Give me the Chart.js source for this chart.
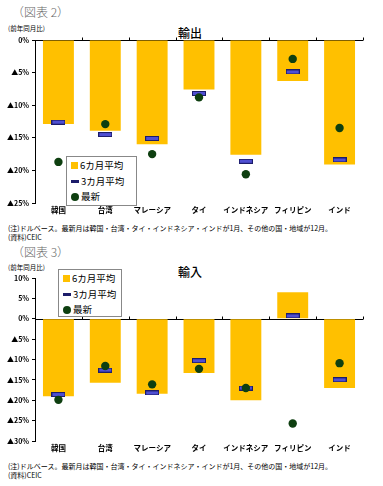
<!DOCTYPE html>
<html>
<head>
<meta charset="utf-8">
<script src="https://cdn.jsdelivr.net/npm/chart.js@4"></script>
<style>
  body { margin: 0; background: #fff; font-family: "Noto Sans CJK JP", sans-serif; }
  #page { position: relative; width: 383px; height: 486px; overflow: hidden; }
  .abs { position: absolute; white-space: nowrap; }
  .fig { font-size: 12px; color: #666; font-weight: 300; }
  .unit { font-size: 6.5px; color: #000; }
  .ttl { font-size: 12px; color: #000; font-weight: 500; transform: translateX(-50%); }
  .note { font-size: 7px; color: #000; }
  canvas { position: absolute; left: 0; }
  .legend { position: absolute; background: #fff; border: 1px solid #888; box-sizing: border-box; padding: 1px 4px; }
  .legend div { display: flex; align-items: center; font-size: 9.5px; height: 15.5px; line-height: 15.5px; color: #000; }
  .legend i { display: inline-block; margin-right: 2px; flex: none; }
</style>
</head>
<body>
<div id="page">
  <div class="abs fig" style="left:12px; top:3px;">（図表 2）</div>
  <div class="abs unit" style="left:8px; top:23px;">(前年同月比)</div>
  <div class="abs ttl" style="left:190px; top:24px;">輸出</div>
  <canvas id="exportChart" width="383" height="200" style="top:20px;"></canvas>
  <div class="legend" id="exportLegend" style="left:66px; top:156px; width:71px; height:50px;"></div>
  <div class="abs note" style="left:8px; top:223px;">(注)ドルベース。最新月は韓国・台湾・タイ・インドネシア・インドが1月、その他の国・地域が12月。</div>
  <div class="abs note" style="left:8px; top:232px;">(資料)CEIC</div>

  <div class="abs fig" style="left:12px; top:243px;">（図表 3）</div>
  <div class="abs unit" style="left:8px; top:262px;">(前年同月比)</div>
  <div class="abs ttl" style="left:190px; top:263px;">輸入</div>
  <canvas id="importChart" width="383" height="200" style="top:258px;"></canvas>
  <div class="legend" id="importLegend" style="left:58px; top:269px; width:64px; height:48px;"></div>
  <div class="abs note" style="left:8px; top:461px;">(注)ドルベース。最新月は韓国・台湾・タイ・インドネシア・インドが1月、その他の国・地域が12月。</div>
  <div class="abs note" style="left:8px; top:470px;">(資料)CEIC</div>
</div>
<script>
const categories = ["韓国", "台湾", "マレーシア", "タイ", "インドネシア", "フィリピン", "インド"]
const seriesNames = ["6カ月平均", "3カ月平均", "最新"]

// 輸出（前年同月比, %）
const exportAvg6 = [-12.9, -13.9, -16.0, -7.6, -17.6, -6.3, -19.1]
const exportAvg3 = [-12.6, -14.5, -15.1, -8.2, -18.6, -4.9, -18.4]
const exportLatest = [-18.7, -12.9, -17.5, -8.8, -20.6, -2.9, -13.5]
const exportRange = [-25, 0]

// 輸入（前年同月比, %）
const importAvg6 = [-19.0, -15.7, -18.4, -13.3, -20.0, 6.5, -17.0]
const importAvg3 = [-18.6, -12.6, -18.2, -10.3, -17.0, 0.7, -15.0]
const importLatest = [-19.9, -11.6, -16.1, -12.3, -17.0, -25.7, -10.9]
const importRange = [-30, 10]

const tickStep = 5

const barColor = "#FFC000"
const markFill = "#4F4FD2"
const markEdge = "#1C1C6A"
const dotColor = "#0E3F10"

// 3カ月平均 の横長マーカー
function makeMarker() {
  const c = document.createElement("canvas")
  c.width = 14
  c.height = 5
  const ctx = c.getContext("2d")
  ctx.fillStyle = markEdge
  ctx.fillRect(0, 0, 14, 5)
  ctx.fillStyle = markFill
  ctx.fillRect(1, 1, 12, 3)
  return c
}

// 0% の横線とカテゴリ境界の目盛り
const zeroLinePlugin = {
  id: "zeroLine",
  beforeDatasetsDraw(chart) {
    const { ctx, chartArea, scales } = chart
    const y = Math.round(scales.y.getPixelForValue(0)) + 0.5
    const step = (chartArea.right - chartArea.left) / categories.length
    ctx.save()
    ctx.strokeStyle = "#000"
    ctx.lineWidth = 1
    ctx.beginPath()
    ctx.moveTo(chartArea.left, y)
    ctx.lineTo(chartArea.right, y)
    for (let i = 1; i <= categories.length; i++) {
      const x = Math.round(chartArea.left + step * i) + 0.5
      ctx.moveTo(x, y)
      ctx.lineTo(x, y - 3)
    }
    ctx.stroke()
    ctx.restore()
  }
}

function pct(v) {
  return v < 0 ? "▲" + (-v) + "%" : v + "%"
}

function makeChart(id, avg6, avg3, latest, range) {
  const marker = makeMarker()
  return new Chart(document.getElementById(id), {
    type: "bar",
    data: {
      labels: categories,
      datasets: [
        { label: seriesNames[0], data: avg6, backgroundColor: barColor, barPercentage: 0.66, categoryPercentage: 1, order: 3 },
        { type: "line", label: seriesNames[1], data: avg3, showLine: false, pointStyle: marker, order: 2 },
        { type: "line", label: seriesNames[2], data: latest, showLine: false, pointStyle: "circle", pointRadius: 4.2,
          backgroundColor: dotColor, borderColor: dotColor, borderWidth: 0, order: 1 }
      ]
    },
    options: {
      responsive: false,
      animation: false,
      layout: { padding: { top: 20, right: 20, left: 0, bottom: 0 } },
      plugins: { legend: { display: false }, tooltip: { enabled: false } },
      scales: {
        x: {
          grid: { display: false, drawTicks: false },
          border: { display: false },
          ticks: { color: "#000", autoSkip: false, font: { family: "Noto Sans CJK JP", size: 7.5, weight: "bold" }, padding: 3, maxRotation: 0 },
          afterFit: (scale) => { scale.height = 17 }
        },
        y: {
          min: range[0],
          max: range[1],
          grid: { display: true, drawOnChartArea: false, drawTicks: true, tickLength: 3, color: "#000" },
          border: { display: true, color: "#000", width: 1 },
          ticks: { stepSize: tickStep, color: "#000", padding: 3, font: { family: "Noto Sans CJK JP", size: 7, weight: "bold" }, callback: pct },
          afterFit: (scale) => { scale.width = 35 }
        }
      }
    },
    plugins: [zeroLinePlugin]
  })
}

function buildLegend(id) {
  const box = document.getElementById(id)
  const icons = [
    `<i style="width:7px;height:7px;background:${barColor}"></i>`,
    `<i style="width:8px;height:3px;background:${markEdge}"></i>`,
    `<i style="width:8px;height:8px;border-radius:50%;background:${dotColor}"></i>`
  ]
  seriesNames.forEach((name, i) => {
    const row = document.createElement("div")
    row.innerHTML = icons[i] + "<span>" + name + "</span>"
    box.appendChild(row)
  })
}

makeChart("exportChart", exportAvg6, exportAvg3, exportLatest, exportRange)
makeChart("importChart", importAvg6, importAvg3, importLatest, importRange)
buildLegend("exportLegend")
buildLegend("importLegend")
</script>
</body>
</html>
